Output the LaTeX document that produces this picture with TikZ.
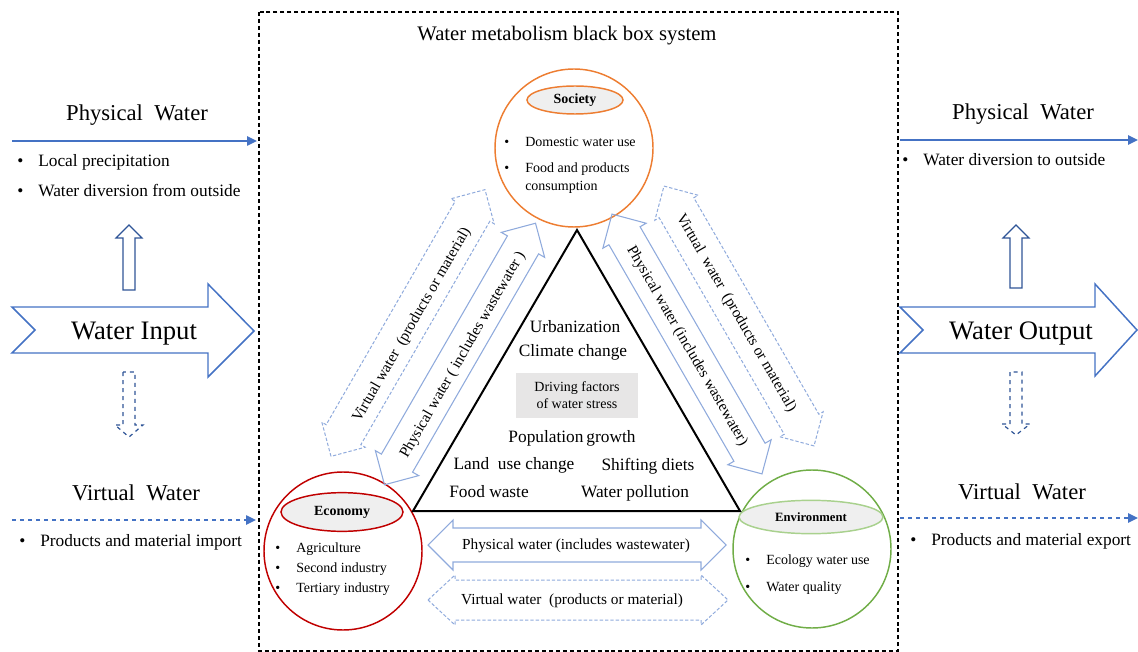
\documentclass[tikz,border=0pt]{standalone}
\usepackage{fontspec}
\setmainfont{Liberation Serif}
\usetikzlibrary{arrows.meta, shapes.geometric}

\definecolor{wblue}{HTML}{4472C4}
\definecolor{wdarkblue}{HTML}{2F5597}
\definecolor{wlightblue}{HTML}{8FAADC}
\definecolor{sorange}{HTML}{ED7D31}
\definecolor{ered}{HTML}{C00000}
\definecolor{egreen}{HTML}{70AD47}
\definecolor{elgreen}{HTML}{A9D18E}
\definecolor{titlegray}{HTML}{EFEFEF}
\definecolor{boxgray}{HTML}{E7E6E6}

\newcommand{\wbul}{\makebox[15.75pt][l]{\textbullet}}

\begin{document}
\begin{tikzpicture}[x=0.75pt, y=-0.75pt,
    bigtext/.style={font=\fontsize{20}{24}\selectfont, inner sep=0pt},
    headtext/.style={font=\fontsize{17}{20}\selectfont, inner sep=0pt},
    sidelist/.style={anchor=west, align=left, inner sep=0pt, font=\fontsize{13}{22.5}\selectfont},
    factortext/.style={font=\fontsize{13}{15}\selectfont, inner sep=0pt},
    circlelist/.style={anchor=west, align=left, inner sep=0pt, font=\fontsize{10.5}{13.5}\selectfont},
    titleell/.style={ellipse, fill=titlegray, line width=1.1pt, inner sep=0pt, font=\bfseries\fontsize{10.5}{12}\selectfont},
    sector/.style={circle, line width=1.1pt, minimum size=118.5pt, inner sep=0pt},
    flowline/.style={draw=wblue, line width=1.1pt, -{Triangle[length=7.5pt,width=7pt]}},
    hollowarrow/.style={draw=wdarkblue, line width=0.9pt},
    physarrow/.style={draw=wlightblue, line width=0.8pt},
    virtarrow/.style={draw=wlightblue, line width=0.75pt, dash pattern=on 2.5pt off 1.5pt},
    arrowlabel/.style={font=\fontsize{11.5}{13}\selectfont, inner sep=0pt}]

    \useasboundingbox (0,0) rectangle (1138,652);

    % --- Black box ---
    \draw[line width=1pt, dash pattern=on 3pt off 2.2pt] (259,12) rectangle (898,651);
    \node[font=\fontsize{15.5}{18}\selectfont, inner sep=0pt] (boxtitle) at (567,36) {Water metabolism black box system};

    % --- Input side ---
    \node[headtext] (pwin) at (137,115) {Physical\ \ Water};
    \coordinate (pwinA) at (12,141);
    \coordinate (pwinB) at (257,141);
    \draw[flowline] (pwinA) -- (pwinB);
    \node[sidelist] (pwinlist) at (17,176) {\wbul Local precipitation\\\wbul Water diversion from outside};

    \draw[hollowarrow] (123,290) -- (123,238) -- (116,238) -- (129,225) -- (142,238) -- (135,238) -- (135,290) -- cycle;
    \draw[draw=wblue, line width=1.1pt, fill=white] (12,307) -- (208,307) -- (208,284) -- (254,331) -- (208,377) -- (208,353) -- (12,353) -- (35,330) -- cycle;
    \node[bigtext] (winput) at (134,334) {Water Input};
    \draw[hollowarrow, dashed] (123,372) -- (123,425) -- (115,425) -- (129,437) -- (143,425) -- (135,425) -- (135,372) -- cycle;

    \node[headtext] (vwin) at (136,493) {Virtual\ \ Water};
    \coordinate (vwinA) at (12,520);
    \coordinate (vwinB) at (256,520);
    \draw[flowline, dashed] (vwinA) -- (vwinB);
    \node[sidelist] (vwinlist) at (19,542) {\wbul Products and material import};

    % --- Output side ---
    \node[headtext] (pwout) at (1023,114) {Physical\ \ Water};
    \coordinate (pwoutA) at (900,140);
    \coordinate (pwoutB) at (1138,140);
    \draw[flowline] (pwoutA) -- (pwoutB);
    \node[sidelist] (pwoutlist) at (902,160) {\wbul Water diversion to outside};

    \draw[hollowarrow] (1010,288) -- (1010,238) -- (1003,238) -- (1016,225) -- (1029,238) -- (1022,238) -- (1022,288) -- cycle;
    \draw[draw=wblue, line width=1.1pt, fill=white] (900,307) -- (1095,307) -- (1095,284) -- (1137,330) -- (1095,376) -- (1095,353) -- (900,353) -- (923,330) -- cycle;
    \node[bigtext] (woutput) at (1021,334) {Water Output};
    \draw[hollowarrow, dashed] (1010,372) -- (1010,424) -- (1002,424) -- (1016,435) -- (1030,424) -- (1022,424) -- (1022,372) -- cycle;

    \node[headtext] (vwout) at (1022,492) {Virtual\ \ Water};
    \coordinate (vwoutA) at (900,518);
    \coordinate (vwoutB) at (1138,518);
    \draw[flowline, dashed] (vwoutA) -- (vwoutB);
    \node[sidelist] (vwoutlist) at (910,541) {\wbul Products and material export};

    % --- Sectors ---
    \node[sector, draw=sorange] (soc) at (574,148) {};
    \node[titleell, draw=sorange, minimum width=72pt, minimum height=21pt] (soctitle) at (575,100) {Society};
    \node[circlelist] (soc1) at (504,142) {\wbul Domestic water use};
    \node[circlelist] (soc2) at (504,178) {\wbul Food and products\\\phantom{\wbul}consumption};

    \node[sector, draw=ered] (eco) at (343,551) {};
    \node[titleell, draw=ered, minimum width=91.5pt, minimum height=29pt] (ecotitle) at (342,512) {Economy};
    \node[circlelist, font=\fontsize{10.5}{15}\selectfont] (ecolist) at (275,569) {\wbul Agriculture\\\wbul Second industry\\\wbul Tertiary industry};

    \node[sector, draw=egreen] (env) at (812,549) {};
    \node[titleell, draw=elgreen, minimum width=108pt, minimum height=25pt, font=\bfseries\fontsize{9.5}{11}\selectfont] (envtitle) at (811,517) {Environment};
    \node[circlelist, font=\fontsize{10.5}{20.25}\selectfont] (envlist) at (745,575) {\wbul Ecology water use\\\wbul Water quality};

    % --- Driving factors triangle ---
    \coordinate (apex) at (577,230);
    \coordinate (tleft) at (413,511);
    \coordinate (tright) at (740,511);
    \draw[line width=1.5pt] (apex) -- (tleft) -- (tright) -- cycle;

    \node[factortext] (urban) at (575,327) {Urbanization};
    \node[factortext] (climate) at (573,352) {Climate change};
    \node[fill=boxgray, minimum width=91.5pt, minimum height=33.75pt, inner sep=0pt, align=center,
          font=\fontsize{10.5}{12.75}\selectfont] (drive) at (577,395) {Driving factors\\of water stress};
    \node[factortext] (popul) at (572,438) {Population\,growth};
    \node[factortext] (landuse) at (514,465) {Land\ \ use change};
    \node[factortext] (diets) at (648,466) {Shifting diets};
    \node[factortext] (foodw) at (489,492) {Food waste};
    \node[factortext] (pollut) at (635,493) {Water pollution};

    % --- Exchange arrows ---
    % Economy <-> Society
    \begin{scope}[shift={(408,323)}, rotate=60]
        \draw[virtarrow] (-154,0) -- (-129,-25) -- (-129,-20) -- (129,-20) -- (129,-25) -- (154,0) -- (129,25) -- (129,20) -- (-129,20) -- (-129,25) -- cycle;
    \end{scope}
    \node[arrowlabel, rotate=60] (esvirt) at (412,325) {Virtual water\enspace(products or material)};
    \begin{scope}[shift={(460,354)}, rotate=60]
        \draw[physarrow] (-151,0) -- (-126,-25) -- (-126,-18) -- (126,-18) -- (126,-25) -- (151,0) -- (126,25) -- (126,18) -- (-126,18) -- (-126,25) -- cycle;
    \end{scope}
    \node[arrowlabel, rotate=60] (esphys) at (463,355) {Physical water ( includes wastewater )};

    % Society <-> Environment
    \begin{scope}[shift={(687,344)}, rotate=-60]
        \draw[physarrow] (-150,0) -- (-125,-25) -- (-125,-18) -- (125,-18) -- (125,-25) -- (150,0) -- (125,25) -- (125,18) -- (-125,18) -- (-125,25) -- cycle;
    \end{scope}
    \node[arrowlabel, rotate=-60] (sephys) at (687,346) {Physical water (includes wastewater)};
    \begin{scope}[shift={(739,316)}, rotate=-60]
        \draw[virtarrow] (-150,0) -- (-125,-25) -- (-125,-20) -- (125,-20) -- (125,-25) -- (150,0) -- (125,25) -- (125,20) -- (-125,20) -- (-125,25) -- cycle;
    \end{scope}
    \node[arrowlabel, rotate=-60] (sevirt) at (736,313) {Virtual\ \ water\enspace(products or material)};

    % Economy <-> Environment
    \begin{scope}[shift={(577,545)}]
        \draw[physarrow] (-149,0) -- (-124,-25) -- (-124,-17) -- (124,-17) -- (124,-25) -- (149,0) -- (124,25) -- (124,17) -- (-124,17) -- (-124,25) -- cycle;
    \end{scope}
    \node[arrowlabel] (eephys) at (576,546) {Physical water (includes wastewater)};
    \begin{scope}[shift={(578,600)}]
        \draw[virtarrow] (-150,0) -- (-123,-25) -- (-123,-20) -- (123,-20) -- (123,-25) -- (150,0) -- (123,25) -- (123,20) -- (-123,20) -- (-123,25) -- cycle;
    \end{scope}
    \node[arrowlabel] (eevirt) at (572,601) {Virtual water\enspace(products or material)};

\end{tikzpicture}
\end{document}
